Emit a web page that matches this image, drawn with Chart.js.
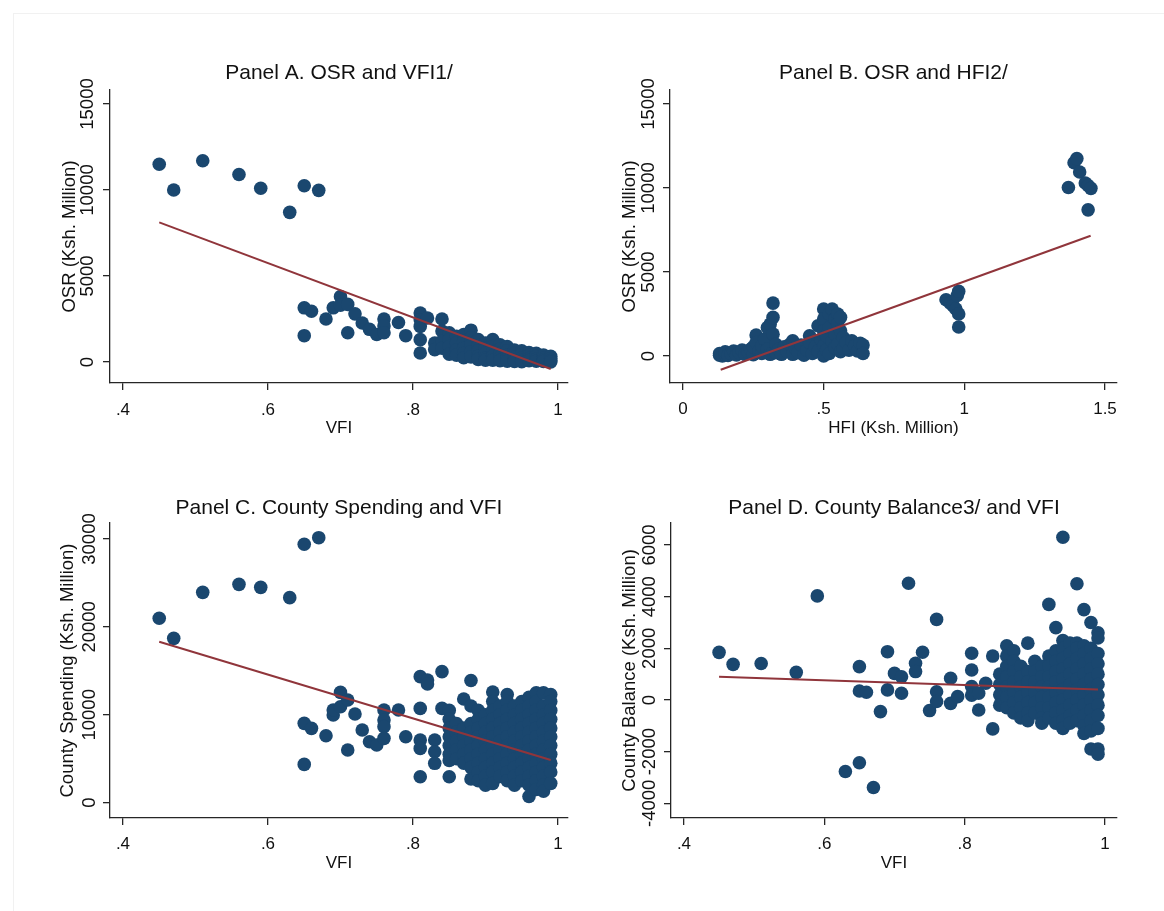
<!DOCTYPE html>
<html>
<head>
<meta charset="utf-8">
<script src="https://cdn.jsdelivr.net/npm/chart.js@4.4.1/dist/chart.umd.min.js"></script>
<style>
html,body{margin:0;padding:0;background:#ffffff;}
body{width:1164px;height:911px;position:relative;overflow:hidden;font-family:"Liberation Sans",Arial,sans-serif;}
.frame{position:absolute;left:13px;top:13px;width:1170px;height:910px;border-left:1px solid #f1f1f1;border-top:1px solid #f1f1f1;}
.panel{position:absolute;}
.panel canvas{display:block;}
</style>
</head>
<body>
<div class="frame"></div>
<div class="panel" id="wA"><canvas id="cA"></canvas></div>
<div class="panel" id="wB"><canvas id="cB"></canvas></div>
<div class="panel" id="wC"><canvas id="cC"></canvas></div>
<div class="panel" id="wD"><canvas id="cD"></canvas></div>
<script>
// ---------------- DATA ----------------
// Panel A: OSR vs VFI
const vfiA = [
  .45,.47,.51,.56,.59,.63,.65,.67,
  .65,.65,.66,.68,.69,.70,.70,.71,.71,.72,.73,.74,.75,.76,.76,.76,.78,.79,
  .81,.81,.81,.81,.81,.82,.83,.83,
  .84,.84,.84,.84,
  .85,.85,.85,.85,
  .86,.86,.86,.86,
  .87,.87,.87,.87,.87,
  .88,.88,.88,.88,.88,
  .89,.89,.89,.89,.89,
  .90,.90,.90,.90,.90,
  .91,.91,.91,.91,.91,
  .92,.92,.92,.92,.92,
  .93,.93,.93,.93,.93,
  .94,.94,.94,.94,.94,
  .95,.95,.95,.95,.95,
  .96,.96,.96,.96,
  .97,.97,.97,.97,
  .98,.98,.98,.98,
  .99,.99,.99,.99
];
const osrA = [
  11500,10000,11700,10900,10100,8700,10250,9980,
  3150,1530,2950,2500,3150,3800,3300,3350,1700,2800,2270,1900,1600,2500,2100,1700,2300,1530,
  2850,2450,2070,1300,520,2560,1100,720,
  2500,1800,1200,800,
  1700,1300,900,450,
  1500,1100,700,400,
  1600,1200,800,500,250,
  1850,1400,1000,600,300,
  1300,950,650,350,150,
  1100,800,500,250,100,
  1300,900,600,350,100,
  1000,750,500,250,80,
  900,650,400,200,50,
  700,500,300,120,30,
  650,450,250,100,20,
  550,380,200,80,
  500,330,170,50,
  400,250,120,30,
  330,200,80,10
];
const fitVfiA = [0.45, 0.99];
const fitOsrA = [8120, -410];

// Panel B: OSR vs HFI
const hfiB = [
  1.37,1.39,1.40,1.41,1.43,1.44,1.44,1.45,
  0.935,0.95,0.96,0.97,0.975,0.98,0.98,0.98,
  0.13,0.13,0.14,0.15,0.15,0.16,0.17,0.18,0.19,0.20,
  0.21,0.22,0.23,0.24,0.25,0.25,0.26,0.26,0.27,0.28,
  0.28,0.29,0.30,0.30,0.31,0.31,0.32,0.32,0.32,0.33,
  0.33,0.34,0.35,0.36,0.37,0.38,0.39,0.39,0.40,0.41,
  0.42,0.43,0.44,0.45,0.45,0.46,0.47,0.48,0.48,0.49,
  0.50,0.50,0.50,0.50,0.50,0.51,0.51,0.52,0.52,0.52,
  0.53,0.53,0.54,0.54,0.54,0.55,0.55,0.55,0.56,0.56,
  0.56,0.57,0.57,0.58,0.59,0.60,0.61,0.62,0.63,0.64,0.64
];
const osrB = [
  10030,11500,11750,10950,10300,8700,10150,9980,
  3350,3150,3000,2800,3600,3850,2500,1730,
  50,150,0,100,250,40,150,300,60,200,
  350,100,250,400,80,550,1250,800,300,150,
  600,1000,1700,400,1900,100,3150,2300,1300,700,
  200,400,100,550,250,700,900,100,450,200,
  650,50,350,1200,800,150,550,1800,300,1000,
  2800,2200,1500,600,0,1200,350,2500,1700,150,
  2800,900,2200,1300,500,2500,1900,700,2300,1500,
  250,1100,450,800,350,900,600,300,750,650,150
];
const fitHfiB = [0.134, 1.449];
const fitOsrB = [-820, 7160];

// Panel C: County spending vs VFI
const vfiC = [
  .45,.47,.51,.56,.59,.63,.65,.67,
  .65,.65,.66,.68,.69,.69,.70,.70,.71,.71,
  .72,.73,.74,.75,.76,.76,.76,.76,.78,.79,
  .81,.81,.81,.81,.81,.82,.82,.83,.83,.83,
  .84,.84,
  .85,.85,.85,.85,.85,.85,.85,.85,
  .86,.86,.86,.86,.86,
  .87,.87,.87,.87,.87,.87,
  .88,.88,.88,.88,.88,.88,.88,.88,.88,
  .89,.89,.89,.89,.89,.89,.89,.89,.89,
  .90,.90,.90,.90,.90,.90,.90,.90,.90,
  .91,.91,.91,.91,.91,.91,.91,.91,.91,.91,.91,
  .92,.92,.92,.92,.92,.92,.92,.92,.92,
  .93,.93,.93,.93,.93,.93,.93,.93,.93,.93,.93,
  .94,.94,.94,.94,.94,.94,.94,.94,.94,.94,
  .95,.95,.95,.95,.95,.95,.95,.95,.95,.95,
  .96,.96,.96,.96,.96,.96,.96,.96,.96,.96,.96,.96,
  .97,.97,.97,.97,.97,.97,.97,.97,.97,.97,.97,.97,
  .98,.98,.98,.98,.98,.98,.98,.98,.98,.98,.98,.98,
  .99,.99,.99,.99,.99,.99,.99,.99,.99,.99,.99
];
const spendC = [
  20980,18700,23930,24840,24500,23330,29400,30150,
  9030,4360,8460,7620,9980,10540,12550,10920,11680,5990,
  10090,8270,6940,6560,10540,9410,8650,7320,10540,7510,
  14340,10730,7130,6180,2960,13960,13500,7130,5800,4480,
  14910,10730,
  10500,9500,8500,7500,6500,5500,4800,2960,
  9000,8000,7000,6000,5000,
  11800,8500,7500,6500,5500,4500,
  13900,11000,9000,8000,7000,6000,5000,4000,2700,
  10500,9500,8500,7500,6500,5500,4500,3500,2500,
  10000,9000,8000,7000,6000,5000,4000,3000,2000,
  12600,11500,10500,9500,8500,7500,6500,5500,4500,3500,2200,
  11000,10000,9000,8000,7000,6000,5000,4000,3000,
  12300,11500,10500,9500,8500,7500,6500,5500,4500,3500,2500,
  11000,10000,9000,8000,7000,6000,5000,4000,3000,2000,
  11500,10500,9500,8500,7500,6500,5500,4500,3500,2500,
  12000,11000,10000,9000,8000,7000,6000,5000,4000,3000,2000,700,
  12500,11500,10500,9500,8500,7500,6500,5500,4500,3500,2500,1500,
  12500,11000,10000,9000,8000,7000,6000,5000,4000,3000,2000,1300,
  12300,11500,10500,9500,8500,7500,6500,5500,4500,3500,2200
];
const fitVfiC = [0.45, 0.99];
const fitSpendC = [18320, 4860];

// Panel D: County balance vs VFI
const vfiD = [
  .45,.47,.51,.56,.59,.63,.65,.67,
  .65,.65,.66,.68,.69,.69,.70,.71,.71,.72,.73,.73,.74,.75,.76,.76,.76,.78,.78,.79,
  .81,.81,.81,.81,.82,.82,.83,.84,.84,
  .85,.85,.85,.85,
  .86,.86,.86,.86,.86,.86,.86,
  .87,.87,.87,.87,.87,.87,.87,
  .88,.88,.88,.88,.88,.88,
  .89,.89,.89,.89,.89,.89,.89,
  .90,.90,.90,.90,.90,.90,
  .91,.91,.91,.91,.91,.91,.91,
  .92,.92,.92,.92,.92,.92,.92,.92,
  .93,.93,.93,.93,.93,.93,.93,.93,.93,
  .94,.94,.94,.94,.94,.94,.94,.94,.94,.94,.94,
  .95,.95,.95,.95,.95,.95,.95,.95,.95,
  .96,.96,.96,.96,.96,.96,.96,.96,.96,.96,
  .97,.97,.97,.97,.97,.97,.97,.97,.97,.97,.97,
  .98,.98,.98,.98,.98,.98,.98,.98,.98,.98,.98,
  .99,.99,.99,.99,.99,.99,.99,.99,.99,.99,.99,.99
];
const balD = [
  1845,1380,1410,1070,4030,-2770,-2430,-3390,
  1290,350,300,-450,1870,390,1030,900,260,4520,1420,1100,1850,-410,3120,320,-60,840,-130,130,
  1810,1160,520,190,-390,260,650,1700,-1120,
  1000,600,200,-200,
  2100,1700,1300,900,500,100,-300,
  1900,1500,1100,700,300,-100,-500,
  1300,900,500,100,-300,-700,
  2200,1100,700,300,-100,-500,-800,
  1500,1100,700,300,-100,-500,
  1300,900,500,100,-300,-700,-900,
  3700,1700,1300,900,500,100,-300,-700,
  2800,1900,1500,1100,700,300,-100,-500,-900,
  6300,2300,2000,1600,1200,800,400,0,-400,-800,-1100,
  2200,1800,1400,1000,600,200,-200,-600,-900,
  4500,2200,2000,1600,1200,800,400,0,-400,-800,
  3500,2100,1800,1400,1000,600,200,-200,-600,-1000,-1300,
  3000,2000,1600,1200,800,400,0,-400,-800,-1200,-1900,
  2600,2400,1800,1400,1000,600,200,-200,-600,-1100,-1900,-2100
];
const fitVfiD = [0.45, 0.99];
const fitBalD = [900, 410];

// Ticks
const vfiTicks = [0.4, 0.6, 0.8, 1];
const vfiTickLabels = ['.4', '.6', '.8', '1'];
const hfiTicks = [0, 0.5, 1, 1.5];
const hfiTickLabels = ['0', '.5', '1', '1.5'];
const osrTicks = [0, 5000, 10000, 15000];
const osrTickLabels = ['0', '5000', '10000', '15000'];
const spendTicks = [0, 10000, 20000, 30000];
const spendTickLabels = ['0', '10000', '20000', '30000'];
const balTicks = [-4000, -2000, 0, 2000, 4000, 6000];
const balTickLabels = ['-4000', '-2000', '0', '2000', '4000', '6000'];

// Axis ranges
const xRangeA = [0.3821, 1.0138], yRangeA = [-1221, 15814];
const xRangeB = [-0.0462, 1.5427], yRangeB = [-1607, 15833];
const xRangeC = [0.3821, 1.0138], yRangeC = [-1740, 31820];
const xRangeD = [0.3815, 1.0171], yRangeD = [-4569, 6852];

// ---------------- LAYOUT / STYLE ----------------
const FAMILY = '"Liberation Sans", Arial, Helvetica, sans-serif';
const INK = '#111111';
const AXIS = '#262626';
const MARKER = '#1a476f';
const FIT = '#90353b';

const layouts = {
  A: {plot:{l:110,t:90,r:568,b:383}, yTitleX:70, yTickX:88, titleY:73, xTickY:410, xTitleY:428.5},
  B: {plot:{l:670,t:90,r:1117,b:383}, yTitleX:630, yTickX:649, titleY:73, xTickY:409, xTitleY:428.5},
  C: {plot:{l:110,t:523,r:568,b:818}, yTitleX:68, yTickX:90, titleY:508, xTickY:844, xTitleY:863.5},
  D: {plot:{l:671,t:523,r:1117,b:818}, yTitleX:630, yTickX:650, titleY:508, xTickY:844, xTitleY:863.5}
};

const Y_W = 70, TOP_H = 40, BOT_H = 62, R_PAD = 18, TL = 7;
const T_SIZE = 21, YT_SIZE = 18.5, YL_SIZE = 18.5, XT_SIZE = 17, XL_SIZE = 17;
const PT_R = 6.8;

function zip(xs, ys) { return xs.map((x, i) => ({x: x, y: ys[i]})); }

function makePanel(key, P) {
  const L = layouts[key];
  const left = L.plot.l - Y_W, top = L.plot.t - TOP_H;
  const width = L.plot.r + R_PAD - left, height = L.plot.b + BOT_H - top;
  const wrap = document.getElementById('w' + key);
  wrap.style.left = left + 'px'; wrap.style.top = top + 'px';
  wrap.style.width = width + 'px'; wrap.style.height = height + 'px';

  const m = document.createElement('canvas').getContext('2d');
  m.font = YL_SIZE + 'px ' + FAMILY;
  const widest = Math.max.apply(null, P.yLabels.map(s => m.measureText(s).width));
  const yPad = L.plot.l - TL - widest / 2 - L.yTickX;
  const tTop = L.titleY - top - T_SIZE * 1.2 / 2;
  const tBot = TOP_H - tTop - T_SIZE * 1.2;
  const xPad = L.xTickY - L.plot.b - TL - XL_SIZE * 1.2 / 2;
  const xtBot = (L.plot.b + BOT_H) - L.xTitleY - XT_SIZE * 1.2 / 2;
  const ytTop = L.yTitleX - left - YT_SIZE * 1.2 / 2;

  const gridOpts = {display:true, drawOnChartArea:false, drawTicks:true, tickLength:TL, color:AXIS, tickColor:AXIS, lineWidth:1.3, tickWidth:1.3};
  const borderOpts = {display:true, color:AXIS, width:1.3};

  new Chart(document.getElementById('c' + key), {
    type: 'scatter',
    data: {
      datasets: [
        {data: zip(P.fitX, P.fitY), showLine:true, pointRadius:0, borderColor:FIT, borderWidth:2, order:0, clip:false},
        {data: zip(P.xs, P.ys), pointRadius:PT_R, pointHoverRadius:PT_R, pointBackgroundColor:MARKER, pointBorderColor:MARKER, pointBorderWidth:0, order:1, clip:false}
      ]
    },
    options: {
      responsive:true, maintainAspectRatio:false, animation:false, events:[],
      layout:{padding:{left:0, top:0, bottom:0, right:R_PAD}},
      plugins:{
        legend:{display:false}, tooltip:{enabled:false},
        title:{display:true, text:P.title, fullSize:false, color:INK,
          font:{family:FAMILY, size:T_SIZE, weight:'normal', lineHeight:1.2},
          padding:{top:tTop, bottom:tBot}}
      },
      scales:{
        x:{
          type:'linear', min:P.xRange[0], max:P.xRange[1], bounds:'data',
          afterBuildTicks: s => { s.ticks = P.xTicks.map(v => ({value:v})); },
          afterFit: s => { s.height = BOT_H; },
          ticks:{autoSkip:false, maxRotation:0, minRotation:0, padding:xPad, color:INK,
            font:{family:FAMILY, size:XL_SIZE, lineHeight:1.2},
            callback:(v, i) => P.xLabels[i]},
          grid:gridOpts, border:borderOpts,
          title:{display:true, text:P.xTitle, color:INK, font:{family:FAMILY, size:XT_SIZE, lineHeight:1.2}, padding:{top:0, bottom:xtBot}}
        },
        y:{
          type:'linear', min:P.yRange[0], max:P.yRange[1], bounds:'data',
          afterBuildTicks: s => { s.ticks = P.yTicks.map(v => ({value:v})); },
          afterFit: s => { s.width = Y_W; },
          ticks:{autoSkip:false, minRotation:90, maxRotation:90, crossAlign:'center', padding:yPad, color:INK,
            font:{family:FAMILY, size:YL_SIZE, lineHeight:1.2},
            callback:(v, i) => P.yLabels[i]},
          grid:gridOpts, border:borderOpts,
          title:{display:true, text:P.yTitle, color:INK, font:{family:FAMILY, size:YT_SIZE, lineHeight:1.2}, padding:{top:ytTop, bottom:0}}
        }
      }
    }
  });
}

makePanel('A', {title:'Panel A. OSR and VFI1/', xTitle:'VFI', yTitle:'OSR (Ksh. Million)',
  xs:vfiA, ys:osrA, fitX:fitVfiA, fitY:fitOsrA, xRange:xRangeA, yRange:yRangeA,
  xTicks:vfiTicks, xLabels:vfiTickLabels, yTicks:osrTicks, yLabels:osrTickLabels});
makePanel('B', {title:'Panel B. OSR and HFI2/', xTitle:'HFI (Ksh. Million)', yTitle:'OSR (Ksh. Million)',
  xs:hfiB, ys:osrB, fitX:fitHfiB, fitY:fitOsrB, xRange:xRangeB, yRange:yRangeB,
  xTicks:hfiTicks, xLabels:hfiTickLabels, yTicks:osrTicks, yLabels:osrTickLabels});
makePanel('C', {title:'Panel C. County Spending and VFI', xTitle:'VFI', yTitle:'County Spending (Ksh. Million)',
  xs:vfiC, ys:spendC, fitX:fitVfiC, fitY:fitSpendC, xRange:xRangeC, yRange:yRangeC,
  xTicks:vfiTicks, xLabels:vfiTickLabels, yTicks:spendTicks, yLabels:spendTickLabels});
makePanel('D', {title:'Panel D. County Balance3/ and VFI', xTitle:'VFI', yTitle:'County Balance (Ksh. Million)',
  xs:vfiD, ys:balD, fitX:fitVfiD, fitY:fitBalD, xRange:xRangeD, yRange:yRangeD,
  xTicks:vfiTicks, xLabels:vfiTickLabels, yTicks:balTicks, yLabels:balTickLabels});
</script>
</body>
</html>
